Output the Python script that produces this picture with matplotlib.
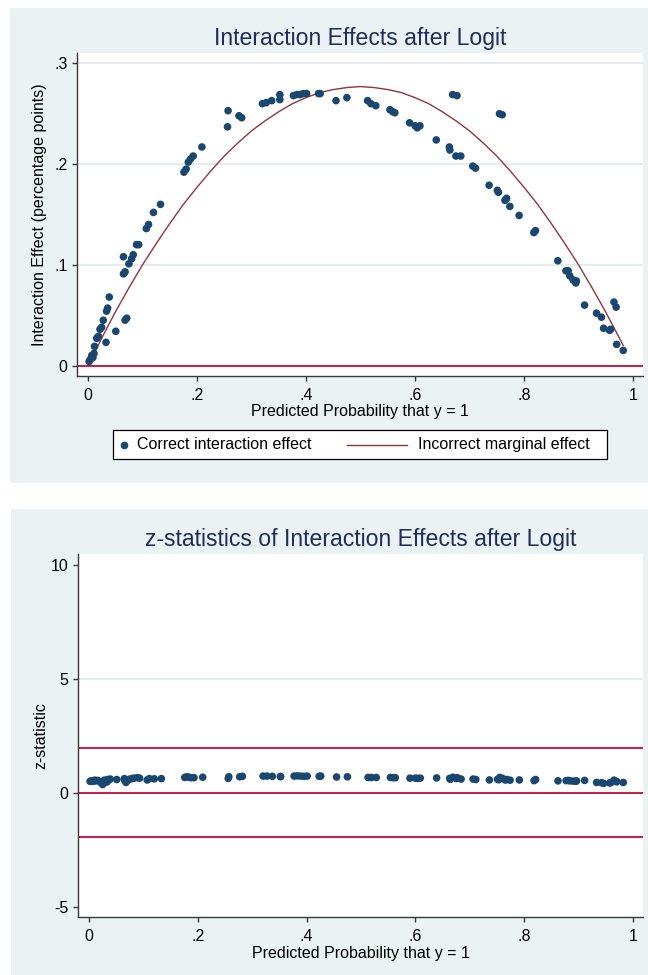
import matplotlib
matplotlib.use("Agg")
import matplotlib.pyplot as plt
from matplotlib.patches import Rectangle
from matplotlib.lines import Line2D

plt.rcParams['font.family'] = ['Liberation Sans', 'DejaVu Sans']

# ── Data ────────────────────────────────────────────────────────────────────
# predicted probability for each observation
prob = [0.002, 0.004, 0.007, 0.009, 0.011, 0.012, 0.016, 0.019, 0.022, 0.025,
        0.028, 0.033, 0.034, 0.036, 0.039, 0.051, 0.065, 0.065, 0.068, 0.068,
        0.071, 0.075, 0.080, 0.083, 0.089, 0.093, 0.107, 0.111, 0.120, 0.133,
        0.176, 0.180, 0.184, 0.188, 0.193, 0.209, 0.256, 0.257, 0.277, 0.282,
        0.320, 0.327, 0.337, 0.352, 0.352, 0.377, 0.383, 0.389, 0.395, 0.401,
        0.423, 0.426, 0.455, 0.475, 0.513, 0.519, 0.528, 0.554, 0.559, 0.563,
        0.590, 0.600, 0.604, 0.609, 0.639, 0.663, 0.664, 0.669, 0.677, 0.675,
        0.684, 0.706, 0.711, 0.736, 0.751, 0.753, 0.755, 0.760, 0.765, 0.768,
        0.774, 0.791, 0.818, 0.821, 0.862, 0.877, 0.881, 0.884, 0.890, 0.895,
        0.896, 0.911, 0.933, 0.942, 0.946, 0.957, 0.959, 0.965, 0.969, 0.970,
        0.982]
# correct interaction effect
effect = [0.004, 0.006, 0.010, 0.008, 0.012, 0.019, 0.027, 0.029, 0.036, 0.038,
          0.045, 0.023, 0.054, 0.057, 0.068, 0.034, 0.108, 0.091, 0.093, 0.045,
          0.047, 0.101, 0.106, 0.110, 0.120, 0.120, 0.136, 0.140, 0.152, 0.160,
          0.192, 0.195, 0.202, 0.205, 0.208, 0.217, 0.237, 0.253, 0.248, 0.246,
          0.260, 0.261, 0.263, 0.269, 0.264, 0.268, 0.269, 0.269, 0.270, 0.270,
          0.270, 0.270, 0.263, 0.266, 0.263, 0.260, 0.258, 0.254, 0.252, 0.251,
          0.241, 0.238, 0.236, 0.238, 0.224, 0.217, 0.214, 0.269, 0.268, 0.208,
          0.208, 0.198, 0.196, 0.179, 0.174, 0.172, 0.250, 0.249, 0.164, 0.166,
          0.158, 0.149, 0.132, 0.134, 0.104, 0.094, 0.094, 0.089, 0.085, 0.082,
          0.084, 0.060, 0.052, 0.048, 0.037, 0.035, 0.036, 0.063, 0.058, 0.021,
          0.015]
# z-statistic of the interaction effect
zstat = [0.50, 0.52, 0.50, 0.53, 0.55, 0.52, 0.54, 0.50, 0.45, 0.36,
         0.55, 0.47, 0.58, 0.56, 0.60, 0.58, 0.62, 0.57, 0.50, 0.45,
         0.55, 0.60, 0.62, 0.64, 0.66, 0.64, 0.56, 0.62, 0.61, 0.62,
         0.67, 0.70, 0.68, 0.66, 0.66, 0.68, 0.63, 0.70, 0.70, 0.72,
         0.73, 0.73, 0.72, 0.71, 0.71, 0.73, 0.74, 0.73, 0.72, 0.73,
         0.72, 0.73, 0.69, 0.70, 0.67, 0.67, 0.67, 0.67, 0.66, 0.66,
         0.64, 0.64, 0.63, 0.64, 0.65, 0.63, 0.59, 0.68, 0.66, 0.62,
         0.60, 0.60, 0.58, 0.56, 0.59, 0.57, 0.67, 0.63, 0.56, 0.58,
         0.55, 0.56, 0.53, 0.58, 0.52, 0.53, 0.54, 0.52, 0.51, 0.50,
         0.52, 0.54, 0.45, 0.44, 0.41, 0.43, 0.44, 0.55, 0.50, 0.48,
         0.45]

# incorrect marginal effect curve
curve_p = [0.002, 0.025, 0.05, 0.075, 0.1, 0.125, 0.15, 0.175, 0.2, 0.225,
           0.25, 0.275, 0.3, 0.325, 0.35, 0.375, 0.4, 0.425, 0.45, 0.475,
           0.5, 0.525, 0.55, 0.575, 0.6, 0.625, 0.65, 0.675, 0.7, 0.725,
           0.75, 0.775, 0.8, 0.825, 0.85, 0.875, 0.9, 0.925, 0.95, 0.982]
curve_v = [0.002, 0.027, 0.053, 0.077, 0.100, 0.121, 0.141, 0.160, 0.177, 0.193,
           0.208, 0.221, 0.233, 0.243, 0.252, 0.260, 0.266, 0.271, 0.274, 0.276,
           0.277, 0.276, 0.274, 0.271, 0.266, 0.260, 0.252, 0.243, 0.233, 0.221,
           0.208, 0.193, 0.177, 0.160, 0.141, 0.121, 0.100, 0.077, 0.053, 0.020]

x_ticks = [0, 0.2, 0.4, 0.6, 0.8, 1]
x_labels = ["0", ".2", ".4", ".6", ".8", "1"]
top_ticks = [0, 0.1, 0.2, 0.3]
top_labels = ["0", ".1", ".2", ".3"]
bot_ticks = [-5, 0, 5, 10]
bot_labels = ["-5", "0", "5", "10"]
z_lines = [1.96, 0, -1.96]

# ── Style ───────────────────────────────────────────────────────────────────
BG = "#EAF2F3"
GRID = "#E3EDEF"
NAVY = "#1A476F"
MAROON = "#90353B"
RED = "#CC1843"
TITLE = "#1E2D5B"
AXIS = "#3A3A3A"
FS = 11.5

W, H = 648, 975
fig = plt.figure(figsize=(W / 100, H / 100), dpi=100)
fig.patch.set_facecolor("white")


def fx(px):
    return px / W


def fy(py):
    return 1 - py / H


def panel(x0, y0, x1, y1):
    fig.add_artist(Rectangle((fx(x0), fy(y1)), fx(x1) - fx(x0), fy(y0) - fy(y1),
                             transform=fig.transFigure, facecolor=BG,
                             edgecolor="none", zorder=0))


def style(ax, yticks, ylabels, grid_at, title, ylabel, ylab_x):
    ax.set_facecolor("white")
    for s in ("top", "right"):
        ax.spines[s].set_visible(False)
    for s in ("left", "bottom"):
        ax.spines[s].set_color(AXIS)
        ax.spines[s].set_linewidth(1.0)
    ax.set_xticks(x_ticks, x_labels)
    ax.set_yticks(yticks, ylabels)
    ax.tick_params(length=3.8, width=1, color=AXIS, labelsize=FS)
    ax.tick_params(axis="x", pad=5)
    ax.tick_params(axis="y", pad=3)
    for g in grid_at:
        ax.axhline(g, color=GRID, lw=1.4, zorder=0)
    ax.set_title(title, fontsize=16.6, color=TITLE, pad=6)
    ax.set_xlabel("Predicted Probability that y = 1", fontsize=FS)
    ax.set_ylabel(ylabel, fontsize=FS)
    ax.yaxis.set_label_coords(ylab_x, 0.5)


# ── Top panel ───────────────────────────────────────────────────────────────
panel(10, 8, 648, 483)
ax1 = fig.add_axes([fx(77), fy(376), fx(643) - fx(77), fy(53) - fy(376)])
ax1.set_xlim(-0.0202, 1.0183)
ax1.set_ylim(-0.0104, 0.3103)
style(ax1, top_ticks, top_labels, [0.1, 0.2, 0.3],
      "Interaction Effects after Logit",
      "Interaction Effect (percentage points)", -0.053)
ax1.xaxis.set_label_coords(0.5, -0.087)
ax1.axhline(0, color=RED, lw=1.4, zorder=1)
ax1.scatter(prob, effect, s=30, color=NAVY, edgecolors="none", zorder=3)
ax1.plot(curve_p, curve_v, color=MAROON, lw=1.0, zorder=2)

# legend drawn as in the Stata output
fig.add_artist(Rectangle((fx(113), fy(459)), fx(607) - fx(113), fy(430) - fy(459),
                         transform=fig.transFigure, facecolor="white",
                         edgecolor="black", lw=0.9, zorder=1))
ly = fy(444.5)
fig.add_artist(Line2D([fx(124)], [ly], marker="o", markersize=4.5, color=NAVY,
                      linestyle="none", transform=fig.transFigure, zorder=2))
fig.text(fx(137), ly, "Correct interaction effect", fontsize=FS, va="center", ha="left")
fig.add_artist(Line2D([fx(347), fx(407)], [ly, ly], color=MAROON, lw=1.0,
                      transform=fig.transFigure, zorder=2))
fig.text(fx(418), ly, "Incorrect marginal effect", fontsize=FS, va="center", ha="left")

# ── Bottom panel ────────────────────────────────────────────────────────────
panel(11, 509, 648, 975)
ax2 = fig.add_axes([fx(78), fy(917), fx(643) - fx(78), fy(554) - fy(917)])
ax2.set_xlim(-0.0202, 1.0183)
ax2.set_ylim(-5.45, 10.47)
style(ax2, bot_ticks, bot_labels, [5],
      "z-statistics of Interaction Effects after Logit", "z-statistic", -0.053)
ax2.xaxis.set_label_coords(0.5, -0.081)
for z in z_lines:
    ax2.axhline(z, color=RED, lw=1.4, zorder=1)
ax2.scatter(prob, zstat, s=30, color=NAVY, edgecolors="none", zorder=3)

fig.savefig("out.png", dpi=100)
